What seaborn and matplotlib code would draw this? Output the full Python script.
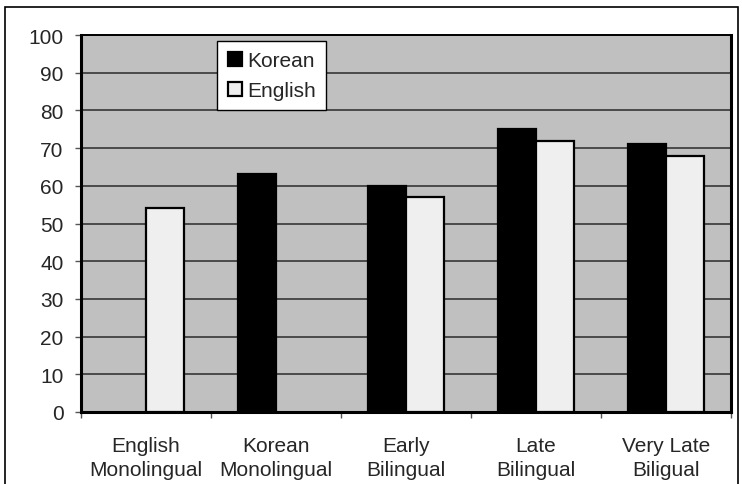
import numpy as np
import pandas as pd
import matplotlib
matplotlib.use("Agg")
import matplotlib.pyplot as plt
from matplotlib.patches import Rectangle
from matplotlib.lines import Line2D
import seaborn as sns

groups = ["English\nMonolingual", "Korean\nMonolingual", "Early\nBilingual",
          "Late\nBilingual", "Very Late\nBiligual"]
series = ["Korean", "English"]
korean = [np.nan, 63, 60, 75, 71]
english = [54, np.nan, 57, 72, 68]
y_ticks = [0, 10, 20, 30, 40, 50, 60, 70, 80, 90, 100]

df = pd.DataFrame({
    "group": groups * 2,
    "language": ["Korean"] * len(groups) + ["English"] * len(groups),
    "score": korean + english,
})

sns.set_theme(style="white")
plt.rcParams["font.family"] = ["Liberation Sans", "DejaVu Sans"]

fig = plt.figure(figsize=(7.42, 4.85), dpi=100)
ax = fig.add_axes([81 / 742, 1 - 413 / 485, 650 / 742, 377 / 485])
ax.set_facecolor("#c0c0c0")

palette = {"Korean": "#000000", "English": "#efefef"}
sns.barplot(data=df, x="group", y="score", hue="language", hue_order=series,
            order=groups, palette=palette, width=0.585, gap=0,
            edgecolor="black", linewidth=1.6, saturation=1, ax=ax,
            legend=False, zorder=3)

ax.set_ylim(0, 100)
ax.set_xlim(-0.5, len(groups) - 0.5)
ax.set_yticks(y_ticks)
ax.yaxis.grid(True, color="#2a2a2a", linewidth=1.1, zorder=1)
ax.set_axisbelow(True)
ax.set_xlabel("")
ax.set_ylabel("")

ax.set_xticks(range(len(groups)))
ax.set_xticklabels(groups, fontsize=15, linespacing=1.36)
ax.set_xticks(np.arange(-0.5, len(groups)), minor=True)
ax.tick_params(axis="x", which="major", length=0, pad=17)
ax.tick_params(axis="x", which="minor", length=4.5, width=1, color="#555555",
               direction="out", bottom=True)
ax.tick_params(axis="y", length=4.5, width=1, color="#555555", direction="out",
               left=True, labelsize=15, pad=8)

for side in ["left", "bottom", "top", "right"]:
    ax.spines[side].set_visible(True)
    ax.spines[side].set_color("black")
ax.spines["left"].set_linewidth(2.2)
ax.spines["bottom"].set_linewidth(2.2)
ax.spines["top"].set_linewidth(1.4)
ax.spines["right"].set_linewidth(2.2)

handles = [
    Line2D([], [], marker="s", linestyle="none", markersize=10.5,
           markerfacecolor=palette[s], markeredgecolor="black",
           markeredgewidth=1.6)
    for s in series
]
leg = fig.legend(handles, series, loc="upper left",
                 bbox_to_anchor=(217 / 742, 1 - 42 / 485),
                 frameon=True, fancybox=False, shadow=False,
                 fontsize=15, handlelength=0.75, handletextpad=0.2,
                 borderpad=0.5, labelspacing=0.5, borderaxespad=0)
leg.get_frame().set_edgecolor("black")
leg.get_frame().set_linewidth(1.0)
leg.get_frame().set_facecolor("white")
leg.get_frame().set_alpha(1)

# outer chart border
fig.add_artist(Rectangle((5 / 742, -0.05), 733 / 742, 1.05 - 8 / 485,
                         transform=fig.transFigure, fill=False,
                         edgecolor="black", linewidth=1.2))

fig.savefig("out.png", dpi=100)
